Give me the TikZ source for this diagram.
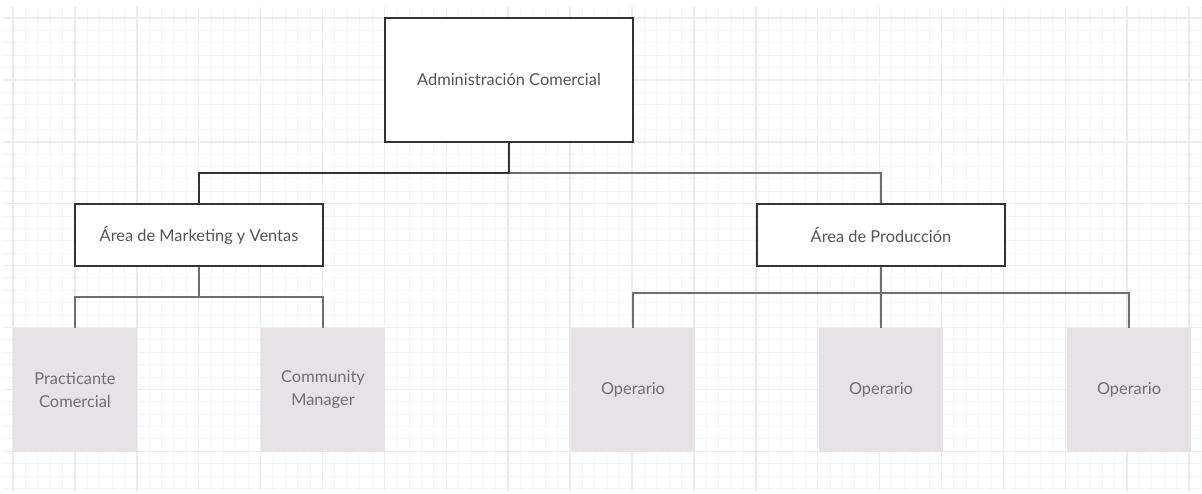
\documentclass[tikz,border=0pt]{standalone}
\usepackage{fontspec}
\setmainfont{Lato}
\definecolor{gridmajor}{HTML}{ECECEC}
\definecolor{gridminor}{HTML}{F5F5F5}
\definecolor{boxline}{HTML}{333333}
\definecolor{linkgray}{HTML}{6E6E6E}
\definecolor{rolefill}{HTML}{E7E2E6}
\definecolor{headtext}{HTML}{555555}
\definecolor{roletext}{HTML}{707070}
\tikzset{
  unitbox/.style={draw=boxline, line width=2pt, fill=white, rectangle,
    minimum width=248pt, minimum height=62pt, inner sep=0pt,
    text=headtext, font=\fontsize{16.4}{23}\selectfont},
  headbox/.style={unitbox, minimum height=124pt},
  rolebox/.style={rectangle, fill=rolefill, minimum width=124pt, minimum height=124pt,
    inner sep=0pt, align=center, text=roletext, font=\fontsize{16.4}{23}\selectfont},
  link/.style={draw=linkgray, line width=1.6pt},
  darklink/.style={draw=boxline, line width=2pt},
}
\begin{document}
\begin{tikzpicture}[x=1pt,y=-1pt]
  \useasboundingbox (0,0) rectangle (1202,493);
  \fill[white] (0,0) rectangle (1202,493);
  % background grid
  \begin{scope}
    \clip (3,7) rectangle (1202,490);
    \foreach \i in {-1,...,96} {
      \draw[gridminor, line width=1pt] (13+12.38*\i,0) -- (13+12.38*\i,493);
    }
    \foreach \j in {-1,...,39} {
      \draw[gridminor, line width=1pt] (0,18+12.38*\j) -- (1202,18+12.38*\j);
    }
    \foreach \i in {0,...,19} {
      \draw[gridmajor, line width=1.5pt] (13+61.9*\i,0) -- (13+61.9*\i,493);
    }
    \foreach \j in {0,...,7} {
      \draw[gridmajor, line width=1.5pt] (0,18+61.9*\j) -- (1202,18+61.9*\j);
    }
  \end{scope}

  % boxes
  \node[headbox] (adm) at (509,80) {Administración Comercial};
  \node[unitbox] (mkt) at (199,235) {Área de Marketing y Ventas};
  \node[unitbox] (prod) at (881,235) {Área de Producción};

  \node[rolebox] (prac) at (75,390) {Practicante\\Comercial};
  \node[rolebox] (comm) at (323,390) {Community\\Manager};
  \node[rolebox] (op1) at (633,390) {Operario};
  \node[rolebox] (op2) at (881,390) {Operario};
  \node[rolebox] (op3) at (1129,390) {Operario};

  % junction points
  \coordinate (jtop) at (509,173);
  \coordinate (jdark) at (443,173);
  \coordinate (jmkt) at (199,297);
  \coordinate (jprod) at (881,293);

  % connectors
  \draw[link] (jtop) -| (prod.north);
  \draw[darklink] (adm.south) -- (jtop) -- (jdark);
  \draw[darklink] (jdark) -| (mkt.north);

  \draw[link] (mkt.south) -- (jmkt) -| (prac.north);
  \draw[link] (jmkt) -| (comm.north);

  \draw[link] (prod.south) -- (op2.north);
  \draw[link] (jprod) -| (op1.north);
  \draw[link] (jprod) -| (op3.north);
\end{tikzpicture}
\end{document}
